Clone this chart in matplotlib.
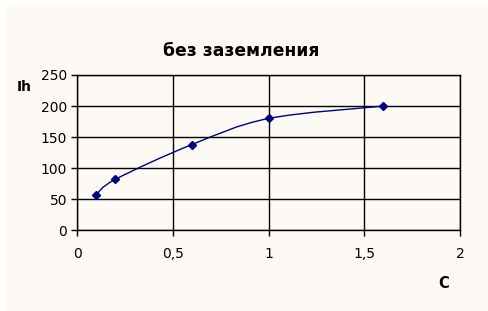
import numpy as np
import matplotlib
matplotlib.use("Agg")
from matplotlib import pyplot as plt
from matplotlib.path import Path
from matplotlib.patches import PathPatch, Rectangle
import matplotlib.ticker as ticker

c_values = [0.1, 0.2, 0.6, 1.0, 1.6]
ih_values = [57, 82, 138, 180, 200]
x_ticks = [0, 0.5, 1, 1.5, 2]
y_ticks = [0, 50, 100, 150, 200, 250]

BG = "#fdf9f5"
LINE = "#000080"


def smooth_path(xs, ys, t=1 / 6):
    # Bezier curve through the points, like a spreadsheet "smoothed line"
    pts = np.column_stack([xs, ys]).astype(float)
    verts = [pts[0]]
    codes = [Path.MOVETO]
    n = len(pts)
    for i in range(n - 1):
        p0 = pts[i - 1] if i > 0 else pts[i]
        p1 = pts[i]
        p2 = pts[i + 1]
        p3 = pts[i + 2] if i + 2 < n else pts[i + 1]
        verts += [p1 + (p2 - p0) * t, p2 - (p3 - p1) * t, p2]
        codes += [Path.CURVE4] * 3
    return Path(verts, codes)


fig = plt.figure(figsize=(4.88, 3.11), dpi=100)
fig.patch.set_facecolor("white")
fig.patches.append(Rectangle((5 / 488, 0), 1, 1 - 5 / 311, transform=fig.transFigure,
                             facecolor=BG, edgecolor="none", zorder=-10))

ax = fig.add_axes([77 / 488, 80.7 / 311, 383 / 488, 155.3 / 311])
ax.set_facecolor(BG)

patch = PathPatch(smooth_path(c_values, ih_values), facecolor="none", edgecolor=LINE, lw=1.0,
                  transform=ax.transData, zorder=3)
ax.add_patch(patch)
ax.plot(c_values, ih_values, linestyle="none", marker="D", color=LINE, markersize=4.5, zorder=4)

ax.set_xlim(0, 2)
ax.set_ylim(0, 250)
ax.set_xticks(x_ticks)
ax.set_yticks(y_ticks)
ax.xaxis.set_major_formatter(ticker.FuncFormatter(lambda x, _: f"{x:g}".replace('.', ',')))
ax.grid(True, color="black", lw=1.0)
ax.set_axisbelow(True)
for s in ax.spines.values():
    s.set_color("black")
    s.set_linewidth(1.0)
ax.tick_params(direction="out", length=4, width=1, labelsize=10, pad=8, colors="black")
ax.tick_params(axis="y", pad=3)

fig.text(241 / 488, 1 - 51.5 / 311, "без заземления", ha="center", va="center",
         fontsize=12.3, fontweight="bold")
fig.text(24 / 488, 1 - 87 / 311, "Ih", ha="center", va="center", fontsize=10, fontweight="bold")
fig.text(444 / 488, 1 - 283 / 311, "C", ha="center", va="center", fontsize=10.5, fontweight="bold")

fig.savefig("out.png", dpi=100, facecolor=fig.get_facecolor())
